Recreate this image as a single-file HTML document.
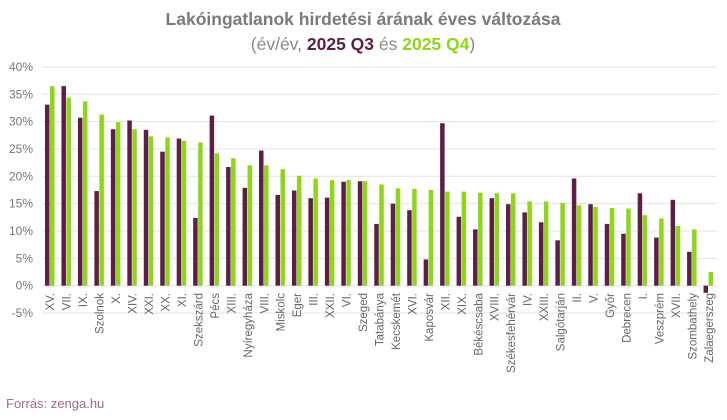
<!DOCTYPE html>
<html><head><meta charset="utf-8"><style>
body{margin:0;width:727px;height:415px;background:#fff;font-family:"Liberation Sans",sans-serif;overflow:hidden}
</style></head><body>
<svg id="c" width="727" height="415">
<text x="363" y="25" text-anchor="middle" font-size="17.5" font-weight="bold" fill="#7a7a7a">Lakóingatlanok hirdetési árának éves változása</text>
<text x="363" y="50" text-anchor="middle" font-size="17.5" fill="#8a8a8a">(év/év, <tspan fill="#5c1f45" font-weight="bold">2025 Q3</tspan> és <tspan fill="#8fd61a" font-weight="bold">2025 Q4</tspan>)</text>
<text x="6" y="408" font-size="13" fill="#a0688c">Forrás: zenga.hu</text>
<g id="grid"></g><g id="bars"></g><g id="labels"></g>
</svg>
<script>
const categories=["XV.","VII.","IX.","Szolnok","X.","XIV.","XXI.","XX.","XI.","Szekszárd","Pécs","XIII.","Nyíregyháza","VIII.","Miskolc","Eger","III.","XXII.","VI.","Szeged","Tatabánya","Kecskemét","XVI.","Kaposvár","XII.","XIX.","Békéscsaba","XVIII.","Székesfehérvár","IV.","XXIII.","Salgótarján","II.","V.","Győr","Debrecen","I.","Veszprém","XVII.","Szombathely","Zalaegerszeg"];
const q3=[33.1,36.5,30.7,17.3,28.6,30.2,28.5,24.5,26.9,12.4,31.1,21.7,17.9,24.7,16.6,17.4,16.0,16.1,19.0,19.1,11.3,15.0,13.8,4.8,29.7,12.6,10.3,16.0,14.9,13.4,11.6,8.3,19.6,14.9,11.3,9.5,16.9,8.8,15.7,6.2,-1.3];
const q4=[36.5,34.4,33.7,31.3,29.9,28.6,27.3,27.1,26.5,26.2,24.2,23.3,22.0,22.0,21.3,20.1,19.6,19.3,19.3,19.1,18.5,17.8,17.7,17.5,17.2,17.2,17.0,16.9,16.9,15.4,15.4,15.1,14.7,14.4,14.2,14.1,12.9,12.3,10.9,10.3,2.5];
const yTicks=[-5,0,5,10,15,20,25,30,35,40];
const NS="http://www.w3.org/2000/svg";
const x0=42,x1=717,y0=285.7,ppu=5.47;
const y=v=>y0-v*ppu;
const bw=(x1-x0)/categories.length;
const grid=document.getElementById('grid'),bars=document.getElementById('bars'),labels=document.getElementById('labels');
function mk(tag,at,parent){const e=document.createElementNS(NS,tag);for(const k in at)e.setAttribute(k,at[k]);parent.appendChild(e);return e;}
yTicks.forEach(t=>{
 const l=mk('line',{x1:x0,x2:x1,y1:y(t),y2:y(t),stroke:'#e3e3e3','stroke-width':1},grid);
 
 
 const tx=mk('text',{x:33,y:y(t)+4,'text-anchor':'end','font-size':12,fill:'#777'},grid);
 tx.textContent=t+'%';
 
 
});
categories.forEach((c,i)=>{
 const cx=x0+i*bw;
 [[q3[i],'#5c1f45',cx+3],[q4[i],'#8fd61a',cx+8]].forEach(([v,col,bx],j)=>{
  const r=mk('rect',{x:bx,y:Math.min(y(v),y0),width:4.5,height:Math.abs(v*ppu),fill:col},bars);
  
  
 });
 const lx=cx+bw/2+4;
 const t=mk('text',{x:lx,y:293,'text-anchor':'end','font-size':11.5,fill:'#666',transform:`rotate(-90 ${lx} 293)`},labels);
 t.textContent=c;
 
 
});
</script>
</body></html>
